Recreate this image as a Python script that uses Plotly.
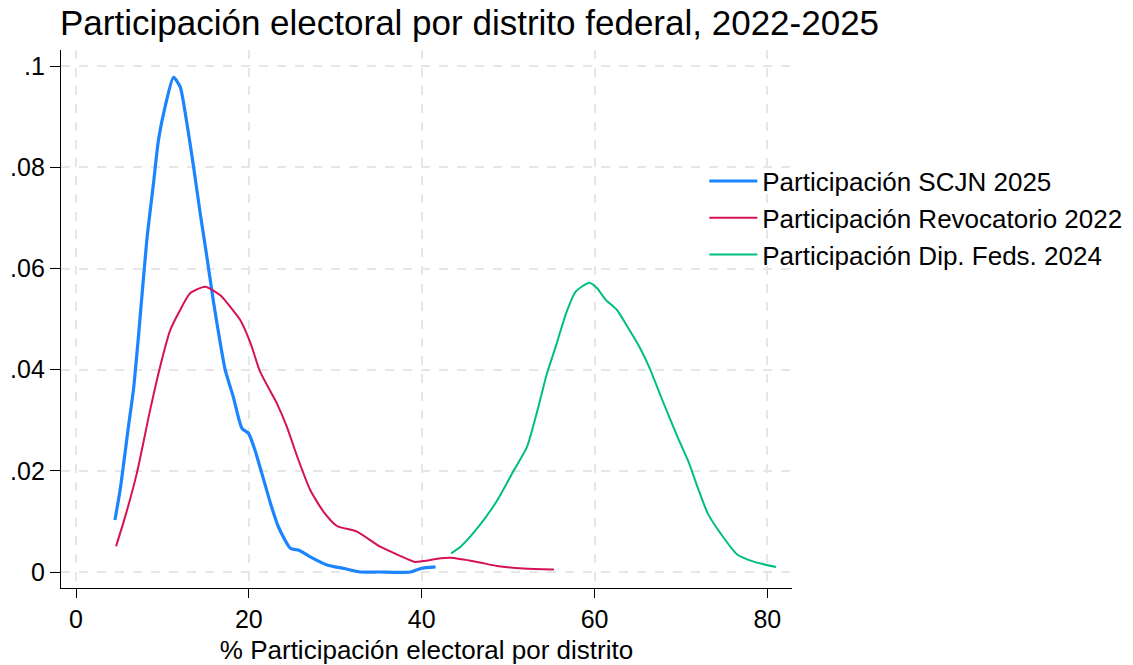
import plotly.graph_objects as go

# SCJN 2025
scjn_x = [4.5, 5.1, 6.06, 6.64, 7.22, 8.19, 8.96, 9.54, 10.31, 11.28, 12.05, 12.83, 13.6, 14.37,
          15.14, 15.9, 16.5, 17.27, 18.2, 19.2, 19.97, 20.7, 21.5, 22.5, 23.4, 24.8, 25.8, 27.1,
          29.05, 31.0, 32.9, 35.0, 38.7, 39.9, 41.6]
scjn_y = [0.0103, 0.0162, 0.0287, 0.036, 0.0465, 0.0656, 0.0768, 0.0854, 0.092, 0.0978, 0.0959,
          0.0887, 0.0801, 0.0709, 0.0623, 0.0535, 0.0472, 0.0399, 0.0346, 0.0284, 0.0274, 0.0241,
          0.0195, 0.0136, 0.0090, 0.0047, 0.0043, 0.0030, 0.0014, 0.0007, 0.0, 0.0, 0.0, 0.0007, 0.001]

# Revocatorio 2022
rev_x = [4.63, 5.68, 7.03, 8.57, 9.73, 10.9, 12.05, 13.2, 14.95, 16.7, 17.85, 19.0, 20.2, 21.3,
         23.25, 24.4, 25.6, 27.1, 28.65, 30.2, 32.5, 35.2, 37.5, 39.2, 40.25, 42.2, 43.3, 46.4,
         48.7, 51.8, 55.3]
rev_y = [0.0051, 0.0109, 0.0195, 0.032, 0.0406, 0.0478, 0.0518, 0.0551, 0.0564, 0.0547, 0.0524,
         0.0498, 0.0452, 0.0396, 0.0333, 0.0287, 0.0228, 0.0162, 0.0119, 0.0091, 0.008, 0.005,
         0.0032, 0.002, 0.0022, 0.0027, 0.0028, 0.002, 0.0012, 0.0007, 0.0005]

# Dip. Feds. 2024
dip_x = [43.4, 44.5, 46.6, 48.75, 50.7, 52.2, 53.4, 54.5, 55.5, 56.7, 57.8, 59.4, 60.3, 61.3,
         62.6, 63.8, 65.2, 66.3, 67.7, 69.6, 70.8, 71.9, 73.1, 74.6, 76.55, 78.5, 81.0]
dip_y = [0.0037, 0.005, 0.009, 0.0142, 0.0202, 0.0248, 0.032, 0.0393, 0.0445, 0.0511, 0.0554,
         0.0572, 0.0561, 0.0538, 0.0518, 0.0485, 0.0445, 0.0406, 0.0346, 0.0267, 0.0221, 0.0169,
         0.0116, 0.0076, 0.0034, 0.002, 0.001]

series_names = ["Participación SCJN 2025", "Participación Revocatorio 2022",
                "Participación Dip. Feds. 2024"]
x_ticks = [0, 20, 40, 60, 80]
y_ticks = [0, 0.02, 0.04, 0.06, 0.08, 0.1]
y_ticktext = ["0", ".02", ".04", ".06", ".08", ".1"]

FONT = "Arial, Liberation Sans, sans-serif"

fig = go.Figure()
fig.add_trace(go.Scatter(x=scjn_x, y=scjn_y, mode="lines", name=series_names[0],
                         line=dict(color="#1A85FF", width=3.2, shape="spline", smoothing=0.6)))
fig.add_trace(go.Scatter(x=rev_x, y=rev_y, mode="lines", name=series_names[1],
                         line=dict(color="#D41159", width=2, shape="spline", smoothing=0.6)))
fig.add_trace(go.Scatter(x=dip_x, y=dip_y, mode="lines", name=series_names[2],
                         line=dict(color="#00BF7D", width=2, shape="spline", smoothing=0.6)))

fig.update_layout(
    width=1133, height=665,
    paper_bgcolor="white", plot_bgcolor="white",
    margin=dict(l=61, r=341, t=50, b=77, autoexpand=False),
    font=dict(family=FONT, color="black", size=25),
    title=dict(text="Participación electoral por distrito federal, 2022-2025",
               x=60/1133, xanchor="left", y=1 - 23/665, yanchor="middle",
               font=dict(size=35, family=FONT, color="black")),
    legend=dict(x=0.88, y=0.80, xanchor="left", yanchor="top",
                font=dict(size=26, family=FONT), bgcolor="rgba(0,0,0,0)",
                tracegroupgap=0, itemwidth=48),
    showlegend=True,
)
fig.update_xaxes(
    range=[-1.74, 82.85], tickvals=x_ticks, ticks="outside", ticklen=9, tickwidth=1.3,
    tickcolor="black", showline=True, linecolor="black", linewidth=1.3, automargin=False,
    showgrid=True, gridcolor="#E6E6E6", griddash="dash", gridwidth=1.5, zeroline=False,
    title=dict(text="% Participación electoral por distrito", font=dict(size=26), standoff=10),
    tickfont=dict(size=25),
)
fig.update_yaxes(
    range=[-0.00316, 0.1032], tickvals=y_ticks, ticktext=y_ticktext, ticks="outside",
    ticklen=10, tickwidth=1.3, tickcolor="black", showline=True, linecolor="black", linewidth=1.3,
    showgrid=True, gridcolor="#E6E6E6", griddash="dash", gridwidth=1.5, zeroline=False,
    tickfont=dict(size=25), automargin=False,
)

fig.write_html("out.html", config={"displayModeBar": False},
               post_script="document.body.style.margin='0px';document.body.style.overflow='hidden';")
